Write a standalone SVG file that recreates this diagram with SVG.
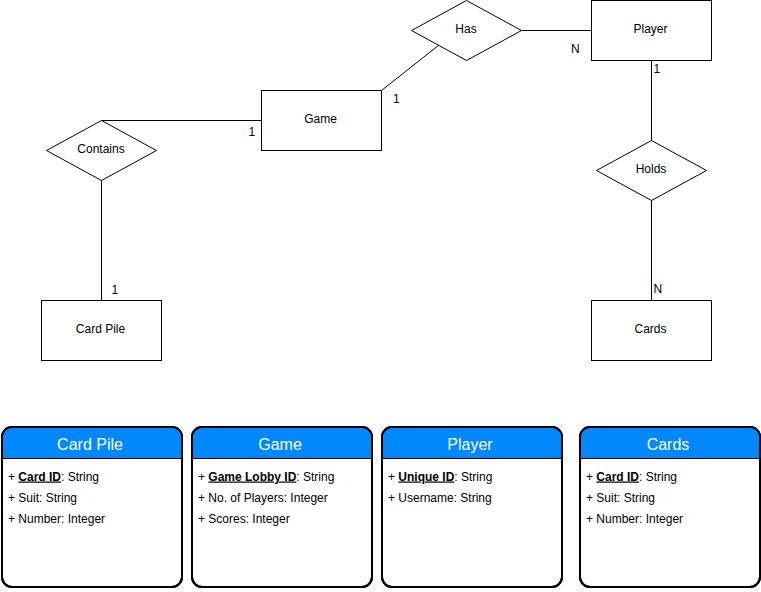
<svg xmlns="http://www.w3.org/2000/svg" width="761" height="592" viewBox="0 0 761 592">
  <style>
    text { font-family: "Liberation Sans", Arial, sans-serif; fill: #000; }
    .entity, .rel { fill: #fff; stroke: #000; stroke-width: 1; }
    .lbl { font-size: 12px; text-anchor: middle; }
    .card { font-size: 12px; }
    .conn { stroke: #000; stroke-width: 1; fill: none; }
    .tbl { fill: #fff; stroke: #000; stroke-width: 2; }
    .frame { fill: none; stroke: #000; stroke-width: 2; }
    .tblhead { fill: #0088FF; }
    .sep { stroke: #000; stroke-width: 1.2; }
    .tbltitle { font-size: 16px; fill: #fff; text-anchor: middle; }
    .row { font-size: 12px; }
    .key { font-weight: bold; text-decoration: underline; }
  </style>

  <!-- relationship lines -->
  <g id="connectors">
    <line class="conn" x1="521.5" y1="30.5" x2="591.5" y2="30.5"/>
    <line class="conn" x1="439" y1="45" x2="381.5" y2="90.5"/>
    <line class="conn" x1="101.5" y1="120.5" x2="261.5" y2="120.5"/>
    <line class="conn" x1="101.5" y1="180.5" x2="101.5" y2="300.5"/>
    <line class="conn" x1="651.5" y1="60.5" x2="651.5" y2="140.5"/>
    <line class="conn" x1="651.5" y1="200.5" x2="651.5" y2="300.5"/>
    <text class="card" x="571" y="52.5">N</text>
    <text class="card" x="393" y="103">1</text>
    <text class="card" x="653.5" y="73">1</text>
    <text class="card" x="248.5" y="136">1</text>
    <text class="card" x="111.5" y="293.5">1</text>
    <text class="card" x="653.5" y="293">N</text>
  </g>

  <!-- entities -->
  <g id="player">
    <rect class="entity" x="591.5" y="0.5" width="120" height="60"/>
    <text class="lbl" x="650.5" y="33">Player</text>
  </g>
  <g id="game">
    <rect class="entity" x="261.5" y="90.5" width="120" height="60"/>
    <text class="lbl" x="320.5" y="123">Game</text>
  </g>
  <g id="card-pile">
    <rect class="entity" x="41.5" y="300.5" width="120" height="60"/>
    <text class="lbl" x="100.5" y="333">Card Pile</text>
  </g>
  <g id="cards">
    <rect class="entity" x="591.5" y="300.5" width="120" height="60"/>
    <text class="lbl" x="650.5" y="333">Cards</text>
  </g>

  <!-- relationships -->
  <g id="has">
    <polygon class="rel" points="466.5,0.5 521.5,30.5 466.5,60.5 411.5,30.5"/>
    <text class="lbl" x="466" y="33">Has</text>
  </g>
  <g id="contains">
    <polygon class="rel" points="101.5,120.5 156.5,150.5 101.5,180.5 46.5,150.5"/>
    <text class="lbl" x="101" y="153">Contains</text>
  </g>
  <g id="holds">
    <polygon class="rel" points="651.5,140.5 706.5,170.5 651.5,200.5 596.5,170.5"/>
    <text class="lbl" x="651" y="173">Holds</text>
  </g>

  <!-- attribute tables -->
  <g id="table-card-pile" transform="translate(2,427)">
    <rect class="tbl" x="0" y="0" width="180" height="160" rx="10"/>
    <path class="tblhead" d="M1,31.5 V10 A9,9 0 0 1 10,1 H170 A9,9 0 0 1 179,10 V31.5 Z"/>
    <rect class="frame" x="0" y="0" width="180" height="160" rx="10"/>
    <line class="sep" x1="0" y1="31.5" x2="180" y2="31.5"/>
    <text class="tbltitle" x="88" y="22.5">Card Pile</text>
    <text class="row" x="6" y="53.5">+ <tspan class="key">Card ID</tspan>: String</text>
    <text class="row" x="6" y="74.5">+ Suit: String</text>
    <text class="row" x="6" y="95.5">+ Number: Integer</text>
  </g>
  <g id="table-game" transform="translate(192,427)">
    <rect class="tbl" x="0" y="0" width="180" height="160" rx="10"/>
    <path class="tblhead" d="M1,31.5 V10 A9,9 0 0 1 10,1 H170 A9,9 0 0 1 179,10 V31.5 Z"/>
    <rect class="frame" x="0" y="0" width="180" height="160" rx="10"/>
    <line class="sep" x1="0" y1="31.5" x2="180" y2="31.5"/>
    <text class="tbltitle" x="88" y="22.5">Game</text>
    <text class="row" x="6" y="53.5">+ <tspan class="key">Game Lobby ID</tspan>: String</text>
    <text class="row" x="6" y="74.5">+ No. of Players: Integer</text>
    <text class="row" x="6" y="95.5">+ Scores: Integer</text>
  </g>
  <g id="table-player" transform="translate(382,427)">
    <rect class="tbl" x="0" y="0" width="180" height="160" rx="10"/>
    <path class="tblhead" d="M1,31.5 V10 A9,9 0 0 1 10,1 H170 A9,9 0 0 1 179,10 V31.5 Z"/>
    <rect class="frame" x="0" y="0" width="180" height="160" rx="10"/>
    <line class="sep" x1="0" y1="31.5" x2="180" y2="31.5"/>
    <text class="tbltitle" x="88" y="22.5">Player</text>
    <text class="row" x="6" y="53.5">+ <tspan class="key">Unique ID</tspan>: String</text>
    <text class="row" x="6" y="74.5">+ Username: String</text>
  </g>
  <g id="table-cards" transform="translate(580,427)">
    <rect class="tbl" x="0" y="0" width="180" height="160" rx="10"/>
    <path class="tblhead" d="M1,31.5 V10 A9,9 0 0 1 10,1 H170 A9,9 0 0 1 179,10 V31.5 Z"/>
    <rect class="frame" x="0" y="0" width="180" height="160" rx="10"/>
    <line class="sep" x1="0" y1="31.5" x2="180" y2="31.5"/>
    <text class="tbltitle" x="88" y="22.5">Cards</text>
    <text class="row" x="6" y="53.5">+ <tspan class="key">Card ID</tspan>: String</text>
    <text class="row" x="6" y="74.5">+ Suit: String</text>
    <text class="row" x="6" y="95.5">+ Number: Integer</text>
  </g>
</svg>
